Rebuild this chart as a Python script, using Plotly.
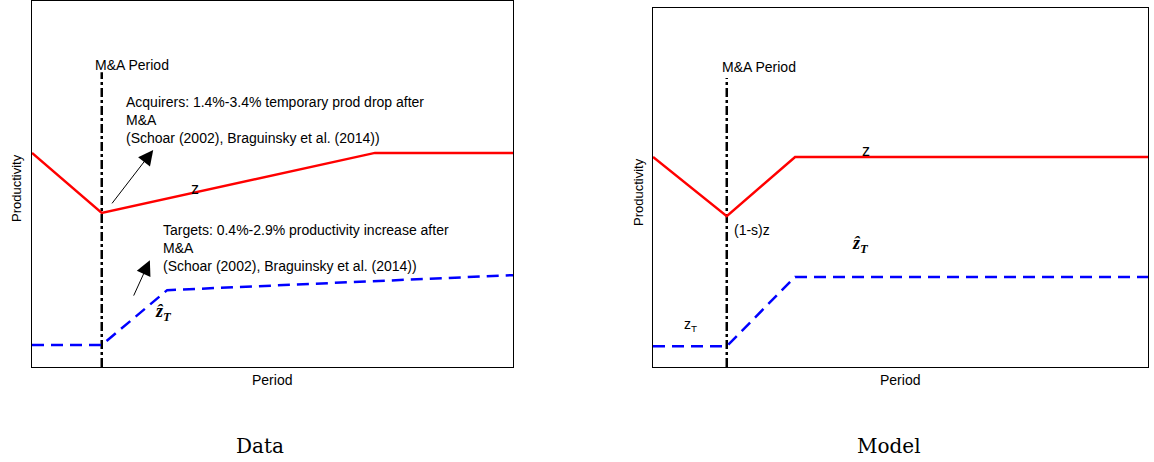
import plotly.graph_objects as go

# Productivity paths (x in period units 0-100, y in productivity units 0-10)
data_x_acq = [0, 14.5, 71.3, 100]
data_y_acq = [5.85, 4.21, 5.85, 5.85]
data_x_tgt = [0, 14.5, 28.1, 100]
data_y_tgt = [0.60, 0.60, 2.10, 2.51]

model_x_acq = [0, 14.9, 28.7, 100]
model_y_acq = [5.85, 4.20, 5.85, 5.85]
model_x_tgt = [0, 14.9, 28.7, 100]
model_y_tgt = [0.58, 0.58, 2.51, 2.51]

ma_period_data = 14.5
ma_period_model = 14.9
ma_line_top = 8.05

panel_titles = ["Data", "Model"]

SANS = "Liberation Sans, Arial, sans-serif"
SERIF = "Liberation Serif, Times New Roman, serif"
CAPTION = "DejaVu Serif, serif"

fig = go.Figure()

def add_panel(xa, ya, xs_a, ys_a, xs_t, ys_t, ma):
    fig.add_trace(go.Scatter(x=[ma, ma], y=[0, ma_line_top], mode="lines",
                             line=dict(color="black", width=2.5, dash="dashdot"),
                             xaxis=xa, yaxis=ya, showlegend=False, hoverinfo="skip"))
    fig.add_trace(go.Scatter(x=xs_a, y=ys_a, mode="lines",
                             line=dict(color="#ff0000", width=2.5),
                             xaxis=xa, yaxis=ya, showlegend=False))
    fig.add_trace(go.Scatter(x=xs_t, y=ys_t, mode="lines",
                             line=dict(color="#0000ff", width=2.5, dash="12px,7px"),
                             xaxis=xa, yaxis=ya, showlegend=False))

add_panel("x", "y", data_x_acq, data_y_acq, data_x_tgt, data_y_tgt, ma_period_data)
add_panel("x2", "y2", model_x_acq, model_y_acq, model_x_tgt, model_y_tgt, ma_period_model)

axis_common = dict(showgrid=False, zeroline=False, showticklabels=False, ticks="",
                   showline=True, linecolor="black", linewidth=1, mirror=True,
                   range=[0, 100], fixedrange=True)
yaxis_common = dict(axis_common, range=[0, 10])

fig.update_layout(
    width=1154, height=462,
    margin=dict(l=0, r=0, t=0, b=0),
    paper_bgcolor="white", plot_bgcolor="white",
    xaxis=dict(axis_common, domain=[32 / 1154, 513 / 1154], anchor="y"),
    yaxis=dict(yaxis_common, domain=[1 - 367 / 462, 1 - 1 / 462], anchor="x"),
    xaxis2=dict(axis_common, domain=[653 / 1154, 1148 / 1154], anchor="y2"),
    yaxis2=dict(yaxis_common, domain=[1 - 367 / 462, 1 - 8 / 462], anchor="x2"),
    font=dict(family=SANS, size=12, color="black"),
)

txt = dict(family=SANS, size=14, color="black")
math = dict(family=SERIF, size=18, color="black")
zfont = dict(family=SANS, size=16, color="black")

ann = []
# Data panel labels
ann.append(dict(x=12.7, y=8.25, xref="x", yref="y", text="M&A Period", showarrow=False,
                xanchor="left", yanchor="middle", font=txt))
ann.append(dict(x=19.1, y=6.75, xref="x", yref="y",
                text="Acquirers: 1.4%-3.4% temporary prod drop after<br>M&A<br>(Schoar (2002), Braguinsky et al. (2014))",
                showarrow=False, xanchor="left", yanchor="middle", align="left", font=txt))
ann.append(dict(x=25.2, y=5.93, ax=16.4, ay=4.43, xref="x", yref="y", axref="x", ayref="y",
                text="", showarrow=True, arrowhead=2, arrowsize=3, arrowwidth=1, arrowcolor="black"))
ann.append(dict(x=33.9, y=4.89, xref="x", yref="y", text="z", showarrow=False,
                xanchor="center", yanchor="middle", font=zfont))
ann.append(dict(x=26.8, y=3.25, xref="x", yref="y",
                text="Targets: 0.4%-2.9% productivity increase after<br>M&A<br>(Schoar (2002), Braguinsky et al. (2014))",
                showarrow=False, xanchor="left", yanchor="middle", align="left", font=txt))
ann.append(dict(x=24.5, y=2.92, ax=21.0, ay=1.91, xref="x", yref="y", axref="x", ayref="y",
                text="", showarrow=True, arrowhead=2, arrowsize=3, arrowwidth=1, arrowcolor="black"))
ann.append(dict(x=27.4, y=1.50, xref="x", yref="y", text="<b><i>ẑ</i><sub><i>T</i></sub></b>",
                showarrow=False, xanchor="center", yanchor="middle", font=math))

# Model panel labels
ann.append(dict(x=13.5, y=8.36, xref="x2", yref="y2", text="M&A Period", showarrow=False,
                xanchor="left", yanchor="middle", font=txt))
ann.append(dict(x=43.0, y=6.04, xref="x2", yref="y2", text="z", showarrow=False,
                xanchor="center", yanchor="middle", font=zfont))
ann.append(dict(x=16.0, y=3.82, xref="x2", yref="y2", text="(1-s)z", showarrow=False,
                xanchor="left", yanchor="middle", font=txt))
ann.append(dict(x=42.0, y=3.40, xref="x2", yref="y2", text="<b><i>ẑ</i><sub><i>T</i></sub></b>",
                showarrow=False, xanchor="center", yanchor="middle", font=math))
ann.append(dict(x=7.5, y=1.17, xref="x2", yref="y2", text="z<sub>T</sub>", showarrow=False,
                xanchor="center", yanchor="middle", font=txt))

# Axis titles
for cx in [272, 900]:
    ann.append(dict(x=cx / 1154, y=1 - 380 / 462, xref="paper", yref="paper", text="Period",
                    showarrow=False, xanchor="center", yanchor="middle",
                    font=dict(family=SANS, size=14, color="black")))
for px, py in [(16, 188), (638, 192)]:
    ann.append(dict(x=px / 1154, y=1 - py / 462, xref="paper", yref="paper", text="Productivity",
                    showarrow=False, textangle=-90, xanchor="center", yanchor="middle",
                    font=dict(family=SANS, size=13, color="black")))

# Panel captions
for cx, title in zip([260, 889], panel_titles):
    ann.append(dict(x=cx / 1154, y=1 - 446 / 462, xref="paper", yref="paper", text=title,
                    showarrow=False, xanchor="center", yanchor="middle",
                    font=dict(family=CAPTION, size=20, color="black")))

fig.update_layout(annotations=ann)
fig.write_html("out.html")
